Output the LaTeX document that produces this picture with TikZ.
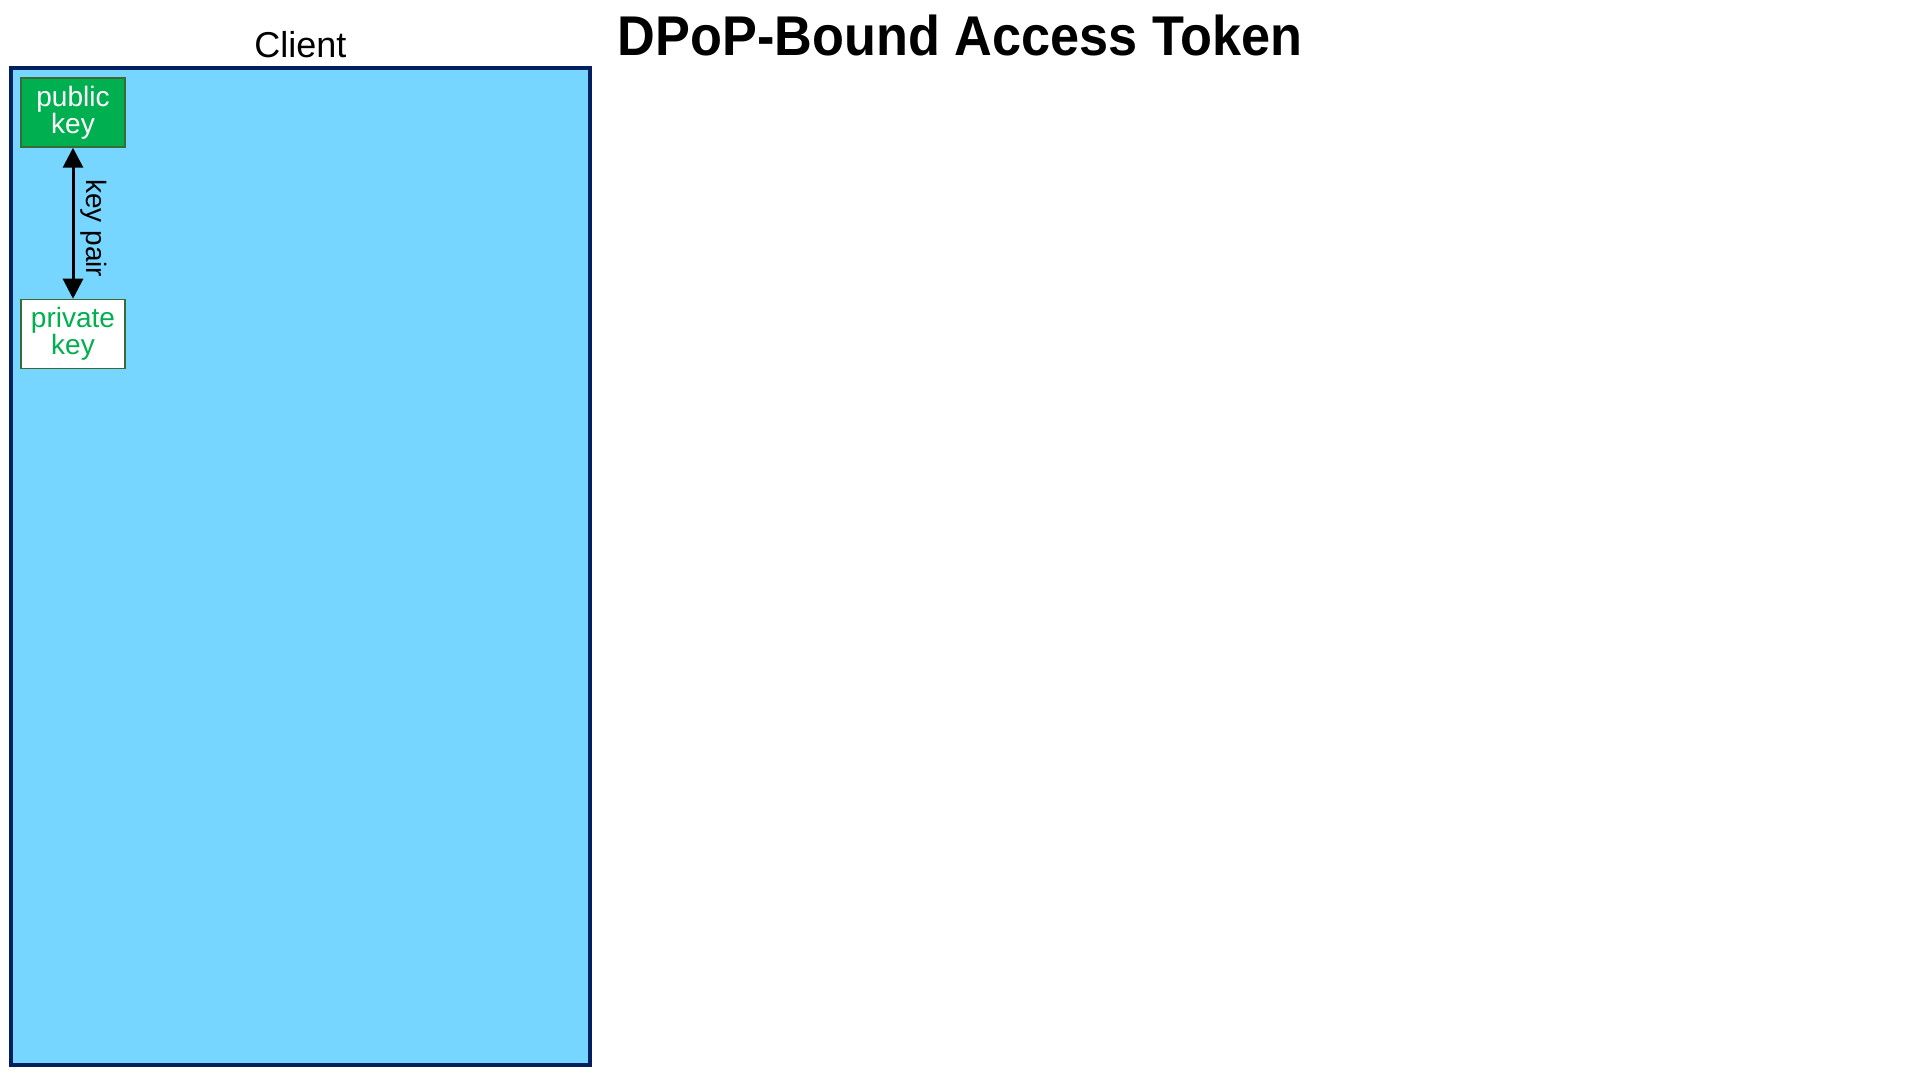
\documentclass[tikz,border=0pt]{standalone}
\usepackage{fontspec}
\usepackage{graphicx}
\setmainfont{Liberation Sans}
\usetikzlibrary{arrows.meta}
\definecolor{clientfill}{HTML}{76D6FF}
\definecolor{clientline}{HTML}{002060}
\definecolor{keygreen}{HTML}{00B050}
\definecolor{keyline}{HTML}{3A6B35}
\tikzset{
  clientbox/.style={draw=clientline, fill=clientfill, line width=2pt, minimum width=289.2pt, minimum height=498.5pt, inner sep=0pt},
  keybox/.style={draw=keyline, line width=0.75pt, minimum width=52pt, minimum height=34.5pt, inner sep=0pt, align=center, font=\fontsize{14pt}{13.5pt}\selectfont},
  pubkey/.style={keybox, fill=keygreen, text=white},
  privkey/.style={keybox, fill=white, text=keygreen},
  keyarrow/.style={line width=1.5pt, {Triangle[width=10pt,length=10pt]}-{Triangle[width=10pt,length=10pt]}},
  arrowlabel/.style={font=\fontsize{14pt}{16pt}\selectfont, inner sep=0pt},
  boxtitle/.style={font=\fontsize{18pt}{20pt}\selectfont, inner sep=0pt, anchor=base},
  maintitle/.style={font=\fontsize{28pt}{30pt}\selectfont\bfseries, inner sep=0pt, anchor=base}
}
\begin{document}
\begin{tikzpicture}[x=0.5pt, y=-0.5pt]
  \useasboundingbox[fill=white] (0,0) rectangle (1920,1080);
  \node[clientbox] (client) at (300.5,566.5) {};
  \node[boxtitle] (clientlabel) at (300.5,58) {Client};
  \node[maintitle] (title) at (960,56) {\scalebox{0.933}[1]{DPoP-Bound Access Token}};
  \node[pubkey] (pub) at (73,112.5) {public\\key};
  \node[privkey] (priv) at (73,334) {private\\key};
  \draw[keyarrow] (pub.south) -- (priv.north)
    node[midway, xshift=6.5pt, yshift=-2.5pt, rotate=-90, anchor=base, arrowlabel] (kp) {key pair};
\end{tikzpicture}
\end{document}
